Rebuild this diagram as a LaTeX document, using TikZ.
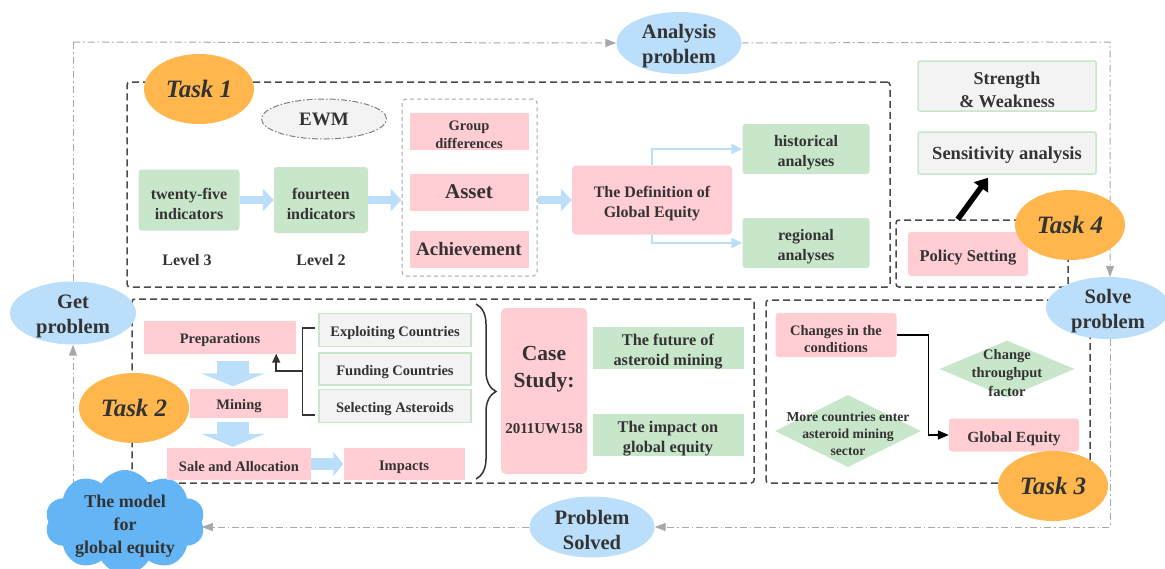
\documentclass[tikz,border=0pt]{standalone}
\usepackage{fontspec}
\setmainfont{Liberation Serif}
\usetikzlibrary{shapes.geometric,shapes.symbols,arrows.meta,decorations.pathreplacing,calc}
\definecolor{pinkc}{HTML}{FFCDD2}
\definecolor{greenc}{HTML}{C8E6C9}
\definecolor{grayc}{HTML}{F3F3F3}
\definecolor{bluec}{HTML}{BBDEFB}
\definecolor{cloudc}{HTML}{64B5F6}
\definecolor{orangec}{HTML}{FFB74D}
\definecolor{txt}{HTML}{333333}
\definecolor{dashc}{HTML}{4A4A4A}
\definecolor{framec}{HTML}{A8A8A8}
\newcommand\fsz[2]{\fontsize{#1}{#2}\selectfont}
\pgfdeclarelayer{background}
\pgfsetlayers{background,main}
\begin{document}
\begin{tikzpicture}[x=1pt,y=-1pt,
  every node/.style={text=txt, align=center, inner sep=0pt, font=\bfseries\fsz{16}{20}},
  low/.style={execute at begin node={\rule{0pt}{\dimexpr0.68em+#1pt\relax}}},
  lowtwo/.style={execute at begin node={\rule{0pt}{\dimexpr0.68em+\baselineskip+#1pt\relax}}},
  pinkbox/.style={fill=pinkc, rounded corners=3pt},
  greenbox/.style={fill=greenc, rounded corners=3pt},
  graybox/.style={fill=grayc, draw=greenc, line width=1.5pt, rounded corners=2pt},
  oval/.style={ellipse, fill=bluec, font=\bfseries\fsz{20.5}{25}, lowtwo=7, inner ysep=-5pt},
  taskell/.style={ellipse, fill=orangec, minimum width=110, minimum height=70, font=\bfseries\itshape\fsz{25}{30}},
  taskbox/.style={draw=dashc, line width=1.5pt, dash pattern=on 7pt off 4pt, rounded corners=3pt},
  frame/.style={draw=framec, line width=1pt, dash pattern=on 7pt off 3pt on 1.5pt off 3pt},
  frametip/.style={-{Triangle[length=11pt,width=8pt]}},
  fatr/.style={draw=bluec, line width=8pt, -{Triangle[length=11pt,width=22pt]}},
  fatd/.style={draw=bluec, line width=32pt, -{Triangle[length=13pt,width=63pt]}},
  thinblue/.style={draw=bluec, line width=2pt, -{Triangle[length=11pt,width=10pt]}},
  blk/.style={draw=txt, line width=1.5pt},
]
\useasboundingbox (0,0) rectangle (1165,568);

% task boxes
\node[taskbox, minimum width=763, minimum height=205] (box1) at (508.5,184.5) {};
\node[taskbox, minimum width=622, minimum height=184] (box2) at (443,391) {};
\node[taskbox, minimum width=324, minimum height=183] (box3) at (928,391.5) {};
\node[taskbox, minimum width=172, minimum height=67] (box4) at (982,253.5) {};

% outer flow nodes
\node[oval, minimum width=125, minimum height=62] (ana) at (679,43) {Analysis\\problem};
\node[oval, minimum width=126, minimum height=63] (getp) at (73,313) {Get\\problem};
\node[oval, minimum width=124, minimum height=62] (solve) at (1108,308) {Solve\\problem};
\node[oval, minimum width=125, minimum height=61] (solved) at (592,527) {Problem\\Solved};
\node[cloud, cloud puffs=10, cloud puff arc=120, aspect=1.6, fill=cloudc, minimum width=160, minimum height=104] (cloud) at (125,522) {};
\node[font=\bfseries\fsz{18}{23}] (cloudt) at (125,526) {The model\\for\\global equity};

% Task 1
\node[taskell] (t1) at (199,89) {Task 1};
\node[ellipse, fill=grayc, draw=gray, line width=1pt, dash pattern=on 6pt off 2pt on 1.5pt off 2pt, minimum width=125, minimum height=40, font=\bfseries\fsz{19}{22}] (ewm) at (324,119) {EWM};
\node[greenbox, lowtwo=8, minimum width=101, minimum height=61] (tw) at (189,200) {twenty-five\\indicators};
\node[greenbox, lowtwo=8, minimum width=94, minimum height=66] (fo) at (321,200) {fourteen\\indicators};
\node (l3) at (187,260) {Level 3};
\node (l2) at (321,260) {Level 2};
\node[draw=framec, line width=1pt, dash pattern=on 4pt off 3pt, rounded corners=4pt, minimum width=135, minimum height=177] (grp) at (469.5,187.5) {};
\node[pinkbox, lowtwo=8, inner ysep=-3pt, rounded corners=0pt, minimum width=119, minimum height=37, font=\bfseries\fsz{14.5}{18}] (gd) at (469,131) {Group\\differences};
\node[pinkbox, rounded corners=0pt, minimum width=119, minimum height=37, font=\bfseries\fsz{21}{24}] (asset) at (469,192) {Asset};
\node[pinkbox, rounded corners=0pt, minimum width=119, minimum height=37, font=\bfseries\fsz{19}{22}] (ach) at (469,249) {Achievement};
\node[pinkbox, lowtwo=8, rounded corners=4pt, minimum width=160, minimum height=69] (def) at (652,200) {The Definition of\\Global Equity};
\node[greenbox, lowtwo=8, minimum width=127, minimum height=50] (hist) at (806,149) {historical\\analyses};
\node[greenbox, lowtwo=8, minimum width=127, minimum height=50] (reg) at (806,243) {regional\\analyses};

% Task 4
\node[graybox, lowtwo=8, minimum width=178, minimum height=50, font=\bfseries\fsz{18}{23}] (sw) at (1007,86) {Strength\\ \& Weakness};
\node[graybox, low=5, minimum width=178, minimum height=42, font=\bfseries\fsz{18.5}{22}] (sens) at (1007,153) {Sensitivity analysis};
\node[pinkbox, low=7, minimum width=120, minimum height=44, font=\bfseries\fsz{16.5}{20}] (pol) at (968,254) {Policy Setting};
\node[taskell] (t4) at (1070,225) {Task 4};

% Task 2
\node[taskell] (t2) at (134,408) {Task 2};
\node[pinkbox, low=7, rounded corners=0pt, minimum width=152, minimum height=33, font=\bfseries\fsz{14.5}{18}] (prep) at (220,337) {Preparations};
\node[pinkbox, low=7, rounded corners=0pt, minimum width=98, minimum height=29, font=\bfseries\fsz{14.5}{18}] (mine) at (239,403) {Mining};
\node[pinkbox, low=6, rounded corners=0pt, minimum width=144, minimum height=32, font=\bfseries\fsz{14.5}{18}] (sale) at (239,464) {Sale and Allocation};
\node[pinkbox, low=6, rounded corners=0pt, minimum width=121, minimum height=32, font=\bfseries\fsz{14.5}{18}] (imp) at (404,464) {Impacts};
\node[graybox, low=6, rounded corners=0pt, minimum width=152, minimum height=33, font=\bfseries\fsz{14.5}{18}] (expl) at (395,330) {Exploiting Countries};
\node[graybox, low=6, rounded corners=0pt, minimum width=152, minimum height=32, font=\bfseries\fsz{14.5}{18}] (fund) at (395,369) {Funding Countries};
\node[graybox, low=6, rounded corners=0pt, minimum width=152, minimum height=33, font=\bfseries\fsz{14.5}{18}] (sel) at (395,406) {Selecting Asteroids};
\node[pinkbox, rounded corners=5pt, minimum width=86, minimum height=166] (case) at (544,391) {};
\node[font=\bfseries\fsz{21.5}{27}] (caset) at (544,369) {Case\\Study:};
\node[font=\bfseries\fsz{15}{18}] (uw) at (544,429) {2011UW158};
\node[greenbox, lowtwo=7, inner ysep=-2pt, rounded corners=0pt, minimum width=151, minimum height=42, font=\bfseries\fsz{16.3}{20}] (fut) at (668,348) {The future of\\asteroid mining};
\node[greenbox, lowtwo=7, inner ysep=-2pt, rounded corners=0pt, minimum width=151, minimum height=42, font=\bfseries\fsz{16.3}{20}] (impc) at (668,435) {The impact on\\global equity};
\coordinate (bt) at (476,304);
\coordinate (bb) at (476,479);

% Task 3
\node[pinkbox, lowtwo=8, minimum width=121, minimum height=44, font=\bfseries\fsz{14.5}{17.5}] (chg) at (836,335) {Changes in the\\conditions};
\node[diamond, fill=greenc, minimum width=135, minimum height=57] (ctf) at (1007,369) {};
\node[font=\bfseries\fsz{14.5}{18.5}] (ctft) at (1007,373) {Change\\throughput\\factor};
\node[diamond, fill=greenc, minimum width=146, minimum height=72] (more) at (848,431) {};
\node[font=\bfseries\fsz{13.7}{17}] (moret) at (848,434) {More countries enter\\asteroid mining\\sector};
\node[pinkbox, low=7, minimum width=130, minimum height=33, font=\bfseries\fsz{15.5}{18}] (ge) at (1014,435) {Global Equity};
\node[taskell] (t3) at (1053,486) {Task 3};

% outer frame
\coordinate (tl) at (73,42);
\coordinate (tr) at (1110,42);
\coordinate (br) at (1110,527);
\coordinate (bl) at (73,500);
\begin{pgfonlayer}{background}
\draw[frame, frametip] (tl) -- (ana.west);
\draw[frame, frametip] (ana.east) -- (tr) -- (tr |- solve.north);
\draw[frame, frametip] (br |- solve.south) -- (br) -- (solved.east);
\draw[frame, frametip] (solved.west) -- (solved.west -| cloud.east);
\draw[frame, frametip] (bl) -- (getp.south);
\draw[frame] (getp.north) -- (tl);
\end{pgfonlayer}

% connectors task 1
\draw[fatr] (tw.east) -- (fo.west);
\draw[fatr] (fo.east) -- (grp.west |- fo.east);
\draw[fatr] (grp.east |- def.west) -- (def.west);
\draw[thinblue] (def.north) |- (hist.west);
\draw[thinblue] (def.south) |- (reg.west);
\draw[black, line width=5.5pt, -{Triangle[length=12pt,width=17pt]}] ($(box4.north west)!0.36!(box4.north east)$) -- ($(sens.south)+(-19,3)$);

% connectors task 2
\draw[fatd] ($(prep.south)+(13,7)$) -- ($(mine.north)+(-6,-2)$);
\draw[fatd] ($(mine.south)+(-6,4)$) -- ($(sale.north)+(-6,-1)$);
\draw[draw=bluec, line width=12pt, -{Triangle[length=10pt,width=24pt]}] (sale.east) -- (imp.west);
\draw[blk] ($(expl.west)+(-3,-2)$) -- ++(-13,0) |- ($(sel.west)+(-3,9)$);
\draw[blk, -{Triangle[length=9pt,width=8pt]}] ($(fund.west)+(-16,2)$) -| ($(prep.south east)+(-20,0)$);
\draw[blk, decorate, decoration={brace, amplitude=20pt}] (bt) -- (bb);

% connectors task 3
\draw[blk, black, -{Triangle[length=11pt,width=9pt]}] (chg.east) -- ++(32,0) |- (ge.west);
\end{tikzpicture}
\end{document}
